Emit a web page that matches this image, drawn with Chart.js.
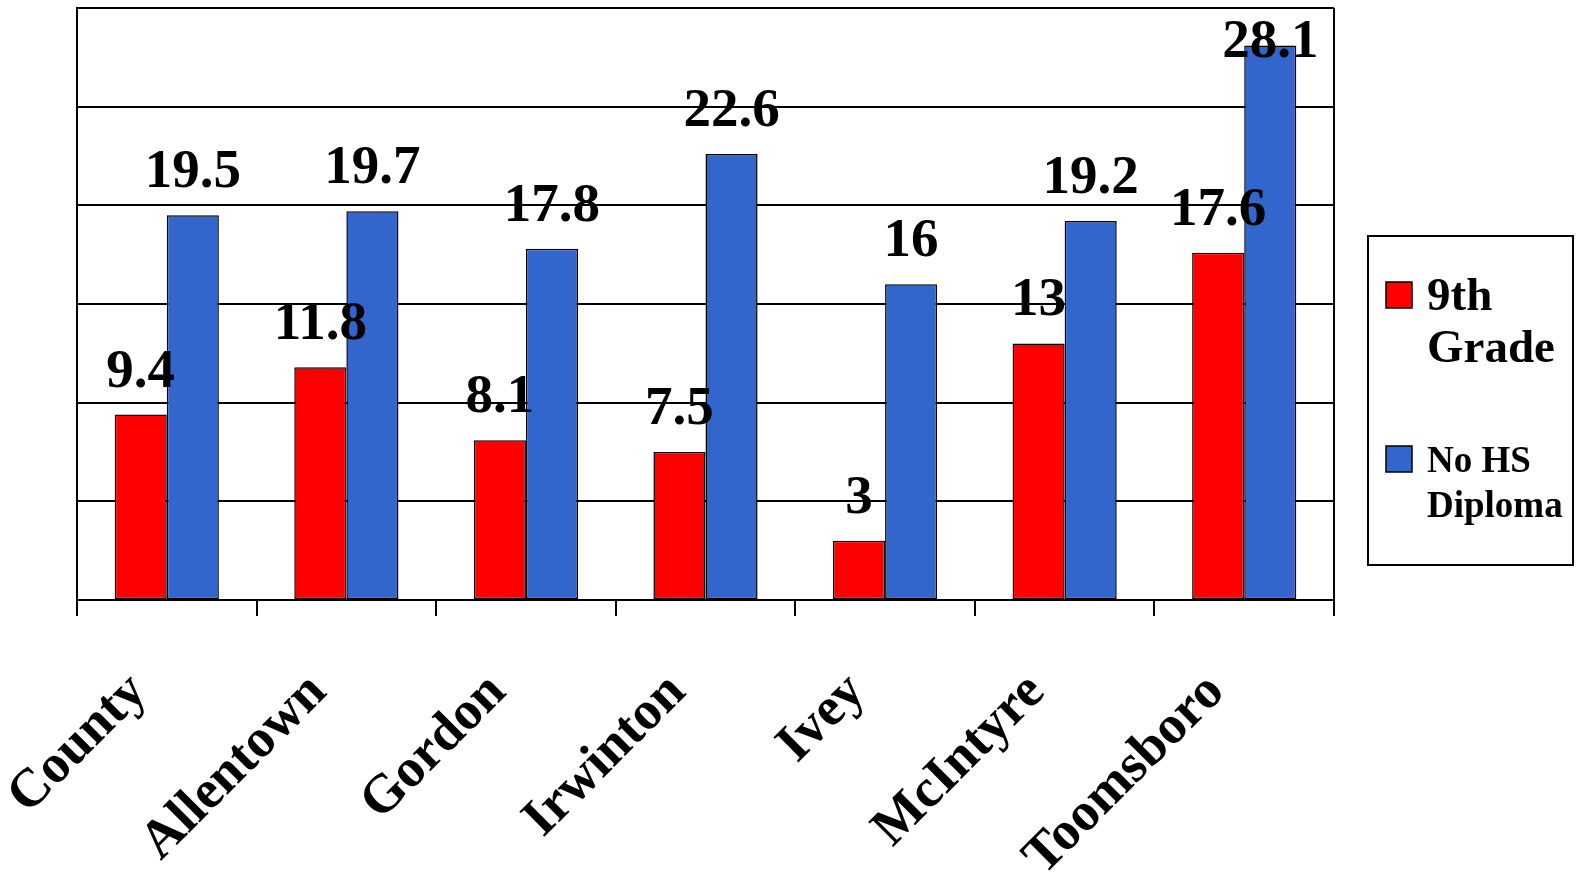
<!DOCTYPE html>
<html>
<head>
<meta charset="utf-8">
<script src="https://cdn.jsdelivr.net/npm/chart.js@4.4.0/dist/chart.umd.min.js"></script>
<style>
  html, body { margin: 0; padding: 0; background: #fff; }
</style>
</head>
<body>
<canvas id="dropoutChart" width="1581" height="874"></canvas>
<script>
const places = ['County', 'Allentown', 'Gordon', 'Irwinton', 'Ivey', 'McIntyre', 'Toomsboro'];
const ninthGrade = [9.4, 11.8, 8.1, 7.5, 3, 13, 17.6];
const noDiploma = [19.5, 19.7, 17.8, 22.6, 16, 19.2, 28.1];
const legendLines = [['9th', 'Grade'], ['No HS', 'Diploma']];

const serif = '"Liberation Serif", "Times New Roman", serif';

document.addEventListener('DOMContentLoaded', () => {
    const ctx = document.getElementById('dropoutChart').getContext('2d');

    const valueLabels = {
        id: 'valueLabels',
        afterDatasetsDraw(chart) {
            const {ctx, chartArea} = chart;
            ctx.save();
            ctx.font = 'bold 55px ' + serif;
            ctx.fillStyle = '#000';
            ctx.textAlign = 'center';
            ctx.textBaseline = 'alphabetic';
            chart.data.datasets.forEach((dataset, i) => {
                chart.getDatasetMeta(i).data.forEach((bar, j) => {
                    const y = Math.max(bar.y - 28, chartArea.top + 49);
                    ctx.fillText(String(dataset.data[j]), bar.x, y);
                });
            });
            ctx.restore();
        }
    };

    const frameAndLegend = {
        id: 'frameAndLegend',
        afterDraw(chart) {
            const {ctx, chartArea} = chart;
            ctx.save();
            ctx.strokeStyle = '#000';
            ctx.lineWidth = 2;
            ctx.beginPath();
            ctx.moveTo(chartArea.right, chartArea.top);
            ctx.lineTo(chartArea.right, chartArea.bottom + 16);
            ctx.stroke();

            // legend box
            ctx.strokeRect(1368, 236, 205, 329);
            const items = [
                {color: chart.data.datasets[0].backgroundColor, box: 282, size: 47, base: 310, lh: 52},
                {color: chart.data.datasets[1].backgroundColor, box: 446, size: 37, base: 472, lh: 45}
            ];
            items.forEach((it, i) => {
                ctx.fillStyle = it.color;
                ctx.fillRect(1386, it.box, 26, 26);
                ctx.lineWidth = 1.5;
                ctx.strokeRect(1386, it.box, 26, 26);
                ctx.fillStyle = '#000';
                ctx.font = 'bold ' + it.size + 'px ' + serif;
                ctx.textAlign = 'left';
                ctx.textBaseline = 'alphabetic';
                legendLines[i].forEach((line, k) => {
                    ctx.fillText(line, 1427, it.base + k * it.lh);
                });
            });
            ctx.restore();
        }
    };

    new Chart(ctx, {
        type: 'bar',
        data: {
            labels: places,
            datasets: [{
                label: '9th Grade',
                data: ninthGrade,
                backgroundColor: '#FF0000',
                borderColor: '#000',
                borderWidth: 1.5,
                borderSkipped: false
            }, {
                label: 'No HS Diploma',
                data: noDiploma,
                backgroundColor: '#3366CC',
                borderColor: '#000',
                borderWidth: 1.5,
                borderSkipped: false
            }]
        },
        options: {
            responsive: false,
            animation: false,
            devicePixelRatio: 1,
            categoryPercentage: 0.58,
            barPercentage: 1,
            layout: {
                padding: {top: 8, right: 247, left: 0, bottom: 0}
            },
            scales: {
                x: {
                    grid: {
                        offset: true,
                        drawOnChartArea: false,
                        color: '#000',
                        lineWidth: 2,
                        tickLength: 16
                    },
                    border: {color: '#000', width: 2},
                    ticks: {
                        minRotation: 45,
                        maxRotation: 45,
                        autoSkip: false,
                        color: '#000',
                        padding: 45,
                        labelOffset: -28,
                        font: {family: serif, size: 54, weight: 'bold'}
                    },
                    afterFit(scale) {
                        scale.height = 274;
                        scale.paddingLeft = 0;
                        scale.paddingRight = 0;
                    }
                },
                y: {
                    min: 0,
                    max: 30,
                    ticks: {display: false, stepSize: 5},
                    grid: {color: '#000', lineWidth: 2, drawTicks: false},
                    border: {color: '#000', width: 2},
                    afterFit(scale) { scale.width = 77; }
                }
            },
            plugins: {
                legend: {display: false},
                tooltip: {enabled: false}
            }
        },
        plugins: [valueLabels, frameAndLegend]
    });
});
</script>
</body>
</html>
